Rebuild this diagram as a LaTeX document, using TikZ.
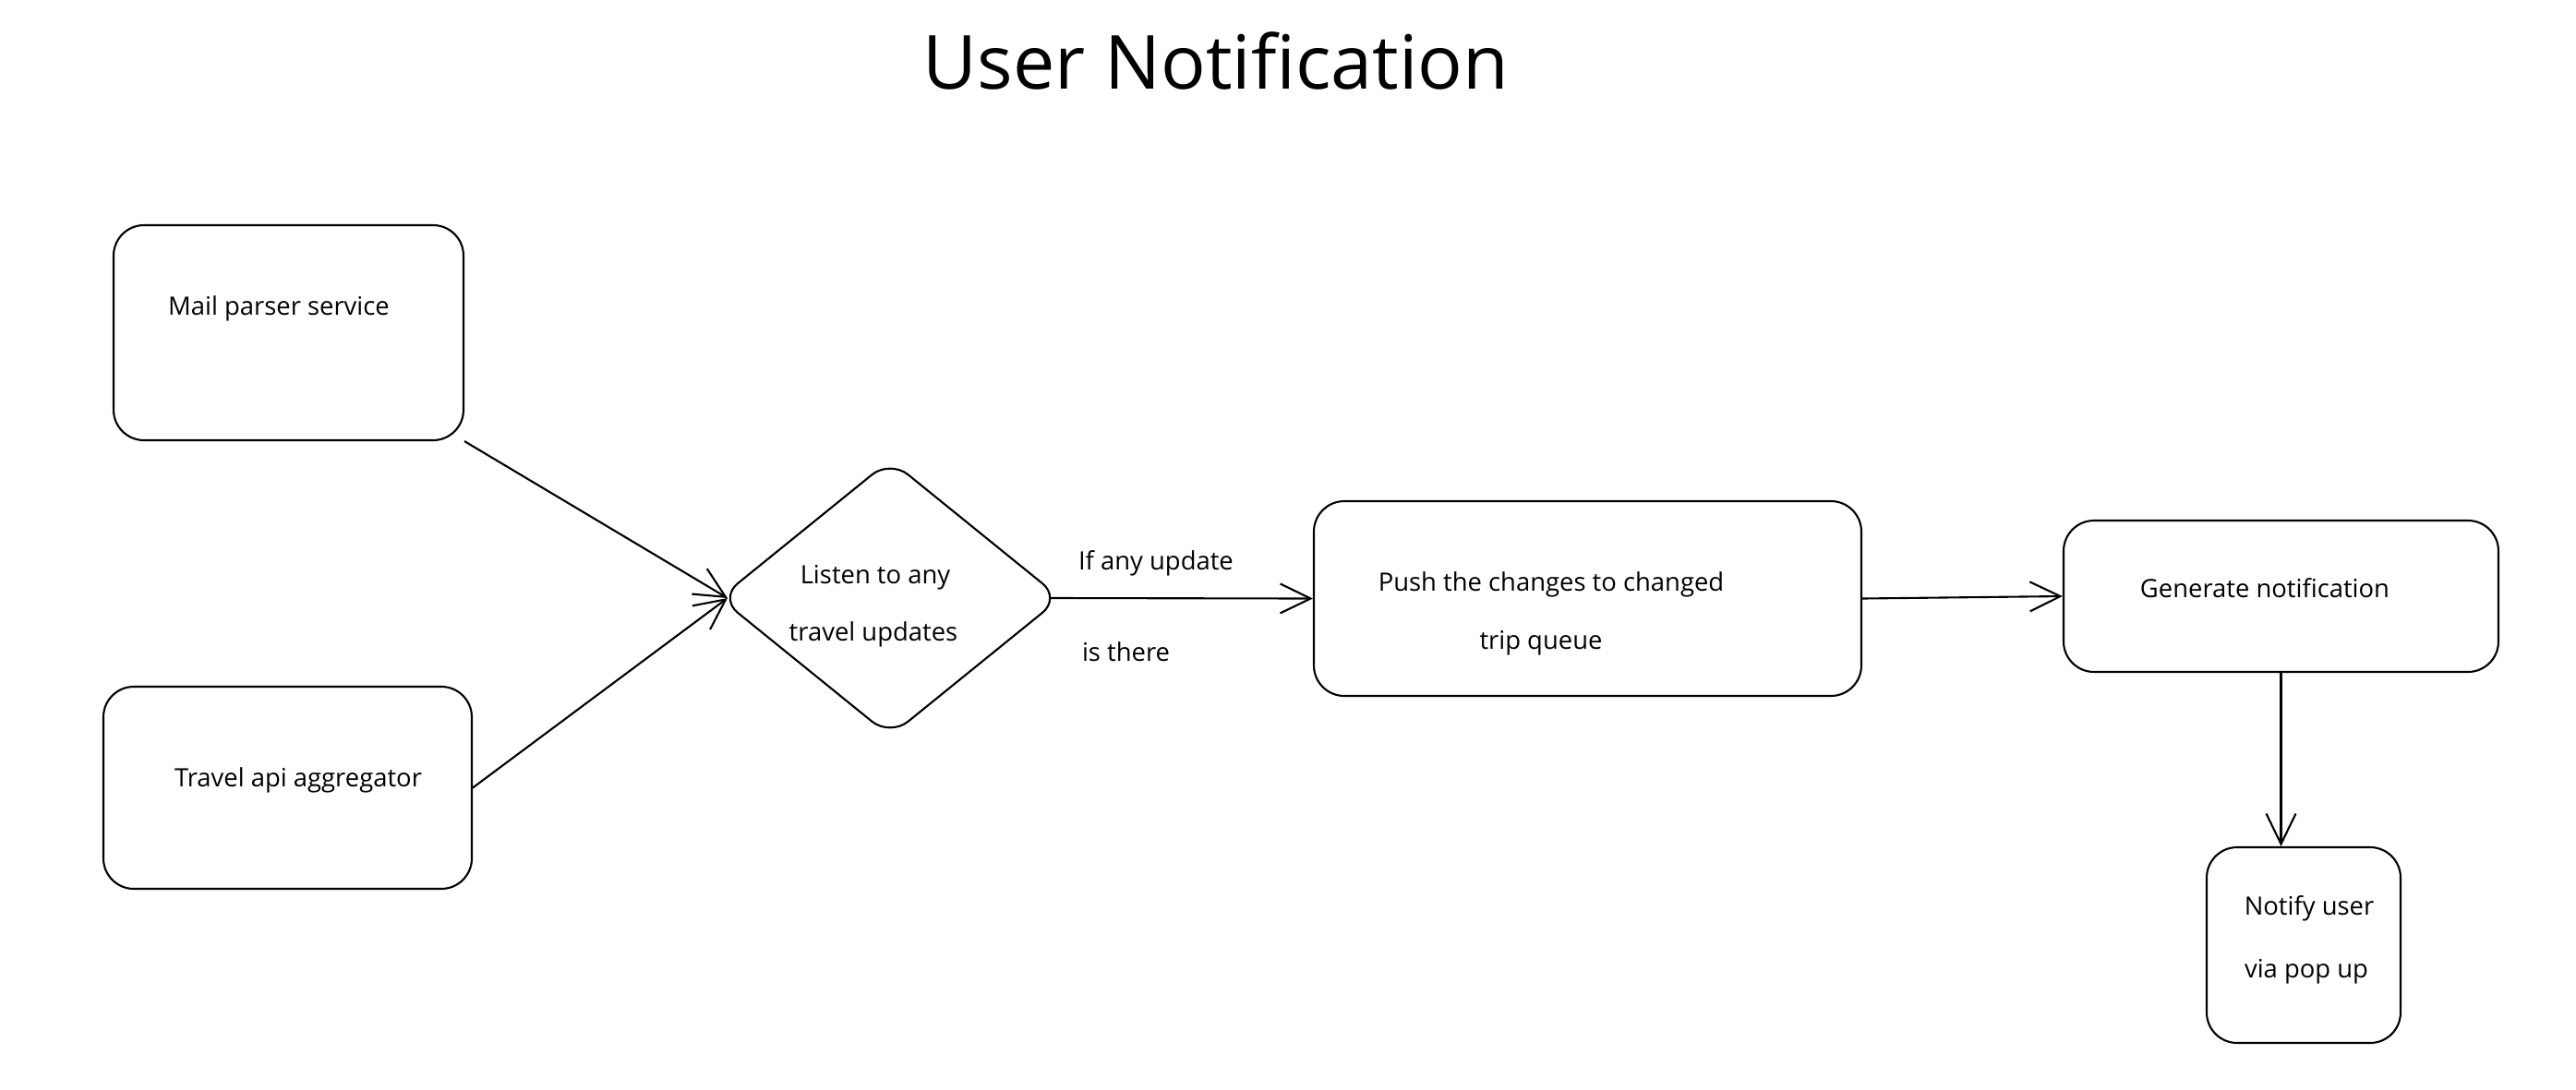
\documentclass[tikz,border=0pt]{standalone}
\usepackage{fontspec}
\setmainfont{Open Sans}
\usetikzlibrary{arrows.meta,shapes.geometric,positioning}
\tikzset{every picture/.style={line width=0.6pt}}

\begin{document}
\begin{tikzpicture}[
    box/.style={draw, rounded corners=3.3mm, inner sep=0pt},
    lbl/.style={font=\fontsize{7.8}{9}\selectfont, inner sep=0pt},
    arr/.style={-{Straight Barb[length=3.3mm,width=3.2mm]}},
]
    \useasboundingbox (0,0) rectangle (27.9,-11.8);
    % title
    \node (title) at (13.17,-0.66) {\fontsize{23}{27}\selectfont User Notification};
    % sources
    \node[box, minimum width=3.79cm, minimum height=2.33cm] (mail) at (3.125,-3.605) {};
    \node[lbl] (mailtxt) at (3.02,-3.34) {Mail parser service};
    \node[box, minimum width=3.99cm, minimum height=2.19cm] (travel) at (3.115,-8.535) {};
    \node[lbl] (traveltxt) at (3.23,-8.45) {Travel api aggregator};
    % listener
    \node[draw, diamond, aspect=1.23, rounded corners=2.5mm, inner sep=0pt,
          minimum width=3.7cm, minimum height=3.0cm] (listen) at (9.64,-6.48) {};
    \node[lbl] (listen1) at (9.48,-6.26) {Listen to any};
    \node[lbl] (listen2) at (9.46,-6.87) {travel updates};
    % queue
    \node[box, minimum width=5.93cm, minimum height=2.11cm] (push) at (17.195,-6.485) {};
    \node[lbl] (push1) at (16.80,-6.33) {Push the changes to changed};
    \node[lbl] (push2) at (16.69,-6.97) {trip queue};
    % notification
    \node[box, minimum width=4.71cm, minimum height=1.64cm] (gen) at (24.705,-6.46) {};
    \node[lbl] (gentxt) at (24.53,-6.37) {Generate notification};
    \node[box, minimum width=2.10cm, minimum height=2.12cm] (notify) at (24.95,-10.24) {};
    \node[lbl] (notify1) at (25.01,-9.84) {Notify user};
    \node[lbl] (notify2) at (24.98,-10.53) {via pop up};
    % arrows
    \draw[arr] (mail.south east) -- ([xshift=1mm]listen.west);
    \draw[arr] (travel.east) -- ([xshift=1mm]listen.west);
    \draw[arr] ([xshift=-1.2mm]listen.east) -- (push.west);
    \node[lbl, anchor=west] (yes1) at (11.67,-6.10) {If any update};
    \node[lbl, anchor=west] (yes2) at (11.71,-7.06) {is there};
    \draw[arr] (push.east) -- (gen.west);
    \draw[arr] (gen.south) -- (gen.south |- notify.north);
\end{tikzpicture}
\end{document}
